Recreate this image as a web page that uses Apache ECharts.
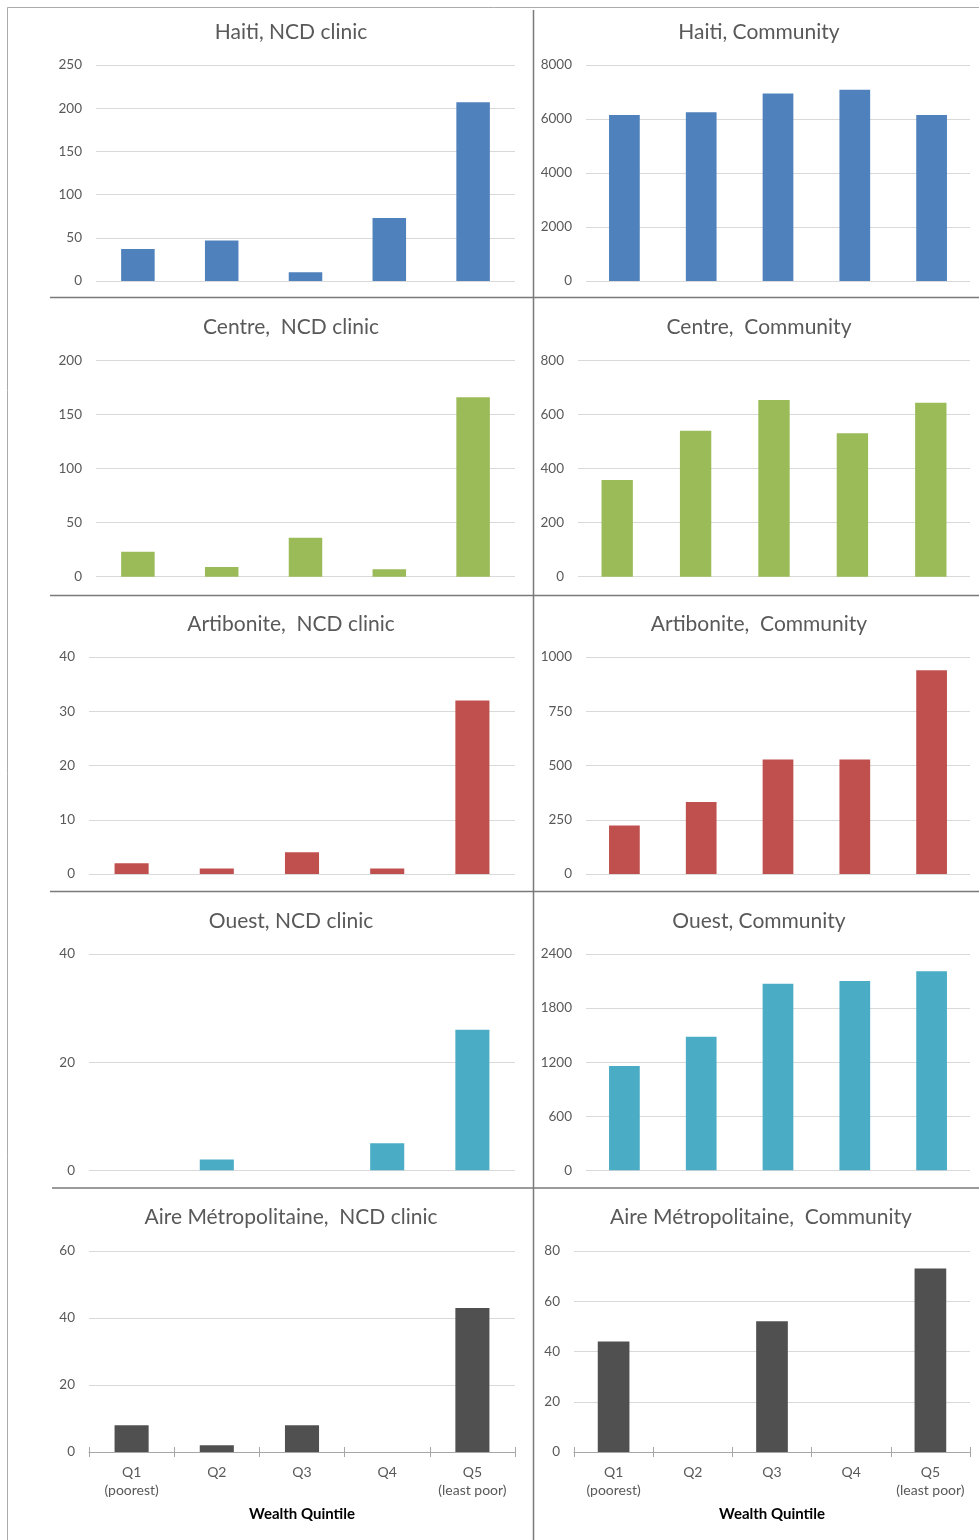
<!DOCTYPE html>
<html><head><meta charset="utf-8">
<script src="https://cdn.jsdelivr.net/npm/echarts@6/dist/echarts.min.js"></script>
<style>html,body{margin:0;padding:0;background:#fff}#c{width:979px;height:1540px}</style>
</head><body><div id="c"></div>
<script>
// ---------- data ----------
const categories = ['Q1\n(poorest)', 'Q2', 'Q3', 'Q4', 'Q5\n(least poor)'];
const panelTitles = [
  'Haiti, NCD clinic', 'Haiti, Community',
  'Centre,  NCD clinic', 'Centre,  Community',
  'Artibonite,  NCD clinic', 'Artibonite,  Community',
  'Ouest, NCD clinic', 'Ouest, Community',
  'Aire Métropolitaine,  NCD clinic', 'Aire Métropolitaine,  Community'
];
const haitiNCD = [37, 47, 10, 73, 207];
const haitiCommunity = [6150, 6250, 6940, 7080, 6150];
const centreNCD = [23, 9, 36, 7, 166];
const centreCommunity = [358, 540, 654, 531, 644];
const artiboniteNCD = [2, 1, 4, 1, 32];
const artiboniteCommunity = [224, 332, 528, 528, 939];
const ouestNCD = [0, 2, 0, 5, 26];
const ouestCommunity = [1157, 1483, 2071, 2100, 2208];
const aireNCD = [8, 2, 8, 0, 43];
const aireCommunity = [44, 0, 52, 0, 73];
const yMax = [250, 8000, 200, 800, 40, 1000, 40, 2400, 60, 80];
const yInterval = [50, 2000, 50, 200, 10, 250, 20, 600, 20, 20];
const xAxisTitle = 'Wealth Quintile';

const seriesData = [haitiNCD, haitiCommunity, centreNCD, centreCommunity,
  artiboniteNCD, artiboniteCommunity, ouestNCD, ouestCommunity, aireNCD, aireCommunity];

// ---------- layout / style ----------
const regionColors = ['#4F81BD', '#4F81BD', '#9BBB59', '#9BBB59', '#C0504D', '#C0504D',
  '#4BACC6', '#4BACC6', '#505050', '#505050'];
const gridBoxes = [
  [96, 65, 515, 281], [586, 65, 970, 281],
  [96, 360.5, 515, 576.7], [578, 360.5, 970, 576.7],
  [89, 657, 515, 874], [586, 657, 970, 874],
  [89, 954, 515, 1170.3], [586, 954, 970, 1170.3],
  [89, 1251, 515, 1452], [574, 1251, 970, 1452]
];
const titleCenters = [[291, 32.5], [759, 32.5], [291, 327], [759, 327], [291, 624], [759, 624],
  [291, 921.5], [759, 921.5], [291, 1217.5], [761, 1217.5]];
const W = 979, H = 1540;
const FONT = 'Lato, "Open Sans", sans-serif';

const chart = echarts.init(document.getElementById('c'), null, {renderer: 'canvas', width: W, height: H});

const grids = [], xAxes = [], yAxes = [], series = [], titles = [];
gridBoxes.forEach((b, i) => {
  grids.push({left: b[0], top: b[1], width: b[2] - b[0], height: b[3] - b[1], containLabel: false});
  titles.push({
    text: panelTitles[i], left: titleCenters[i][0], top: titleCenters[i][1] - 12.5, textAlign: 'center', padding: 0,
    textStyle: {fontFamily: FONT, fontSize: 21, fontWeight: 'normal', color: '#595959', lineHeight: 25}
  });
  const bottomRow = i >= 8;
  xAxes.push({
    type: 'category', gridIndex: i, data: categories, position: 'bottom',
    axisLine: {show: bottomRow, lineStyle: {color: '#A6A6A6', width: 1}},
    axisTick: {show: bottomRow, length: 5, lineStyle: {color: '#A6A6A6'}},
    axisLabel: {show: bottomRow, interval: 0, margin: 11, fontFamily: FONT, fontSize: 14, color: '#595959', lineHeight: 18},
    name: bottomRow ? xAxisTitle : '', nameLocation: 'middle', nameGap: 55,
    nameTextStyle: {fontFamily: FONT, fontSize: 15, fontWeight: 'bold', color: '#000'}
  });
  yAxes.push({
    type: 'value', gridIndex: i, min: 0, max: yMax[i], interval: yInterval[i],
    axisLine: {show: false}, axisTick: {show: false},
    axisLabel: {margin: 14, fontFamily: FONT, fontSize: 13.5, color: '#595959', formatter: v => String(v)},
    splitLine: {lineStyle: {color: '#D9D9D9', width: 1}}
  });
  series.push({
    type: 'bar', xAxisIndex: i, yAxisIndex: i, data: seriesData[i], barWidth: '40%',
    itemStyle: {color: regionColors[i]}, silent: true, animation: false
  });
});
// inner half of the crossing tick marks on bottom row
[8, 9].forEach(i => {
  xAxes.push({
    type: 'category', gridIndex: i, data: categories, position: 'bottom', offset: 0,
    axisLine: {show: false}, axisLabel: {show: false}, splitLine: {show: false},
    axisTick: {show: true, inside: true, length: 5, lineStyle: {color: '#A6A6A6'}}
  });
});

const lineC = '#7A7A7A';
const graphics = [
  {type: 'line', shape: {x1: 7.5, y1: 7.5, x2: W, y2: 7.5}, style: {stroke: '#ABABAB', lineWidth: 1}},
  {type: 'line', shape: {x1: 7.5, y1: 7.5, x2: 7.5, y2: H}, style: {stroke: '#ABABAB', lineWidth: 1}},
  {type: 'line', shape: {x1: 533.5, y1: 10, x2: 533.5, y2: H}, style: {stroke: lineC, lineWidth: 1.5}},
  {type: 'line', shape: {x1: 50, y1: 297.5, x2: W, y2: 297.5}, style: {stroke: lineC, lineWidth: 1.5}},
  {type: 'line', shape: {x1: 50, y1: 595.5, x2: W, y2: 595.5}, style: {stroke: lineC, lineWidth: 1.5}},
  {type: 'line', shape: {x1: 50, y1: 891.5, x2: W, y2: 891.5}, style: {stroke: lineC, lineWidth: 1.5}},
  {type: 'line', shape: {x1: 52, y1: 1188, x2: W, y2: 1188}, style: {stroke: lineC, lineWidth: 1.5}}
];

chart.setOption({
  animation: false,
  backgroundColor: '#fff',
  title: titles, grid: grids, xAxis: xAxes, yAxis: yAxes, series: series,
  graphic: graphics
});
</script></body></html>
